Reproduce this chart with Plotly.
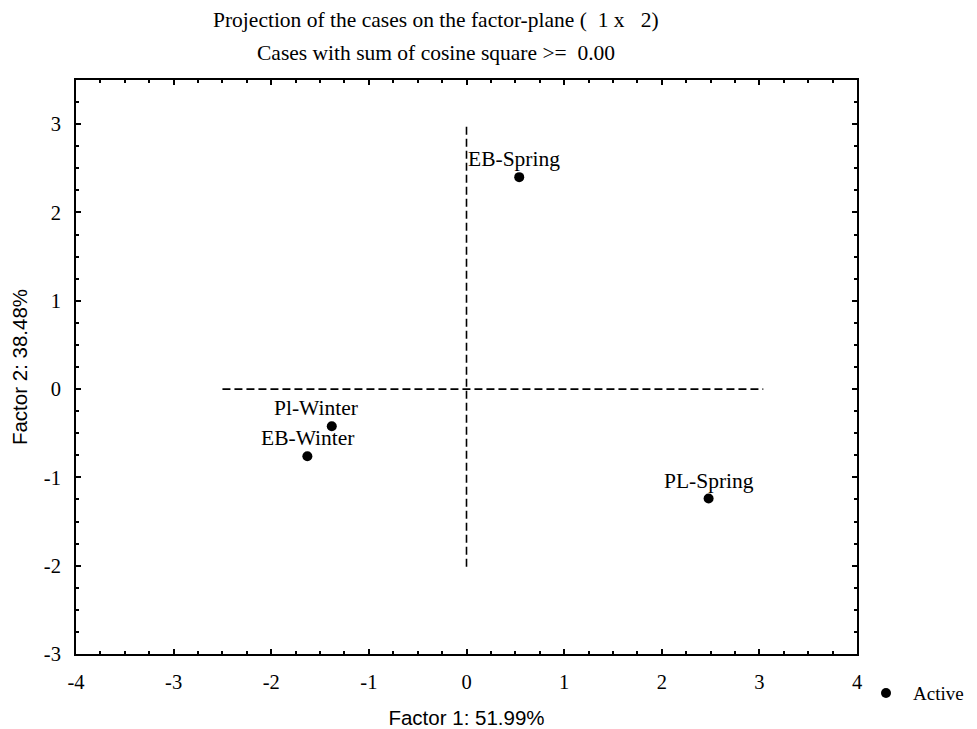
import plotly.graph_objects as go

# Data
case_labels = ["EB-Spring", "Pl-Winter", "EB-Winter", "PL-Spring"]
factor1 = [0.54, -1.38, -1.63, 2.48]
factor2 = [2.40, -0.42, -0.76, -1.24]
x_ticks = [-4, -3, -2, -1, 0, 1, 2, 3, 4]
x_tick_labels = ["-4", "-3", "-2", "-1", "0", "1", "2", "3", "4"]
y_ticks = [-3, -2, -1, 0, 1, 2, 3]
y_tick_labels = ["-3", "-2", "-1", "0", "1", "2", "3"]
hline_x = [-2.50, 3.04]
hline_y = [0, 0]
vline_x = [0, 0]
vline_y = [2.97, -2.02]
legend_name = "Active"

serif = "Liberation Serif"
sans = "Liberation Sans"
label_xshift = [-5, -16, 0, 0]

fig = go.Figure()
fig.add_trace(go.Scatter(x=hline_x, y=hline_y, mode="lines", showlegend=False,
                         line=dict(color="black", width=1.6, dash="8px,4px"), hoverinfo="skip"))
fig.add_trace(go.Scatter(x=vline_x, y=vline_y, mode="lines", showlegend=False,
                         line=dict(color="black", width=1.6, dash="8px,4px"), hoverinfo="skip"))
fig.add_trace(go.Scatter(x=factor1, y=factor2, mode="markers", name=legend_name, showlegend=False,
                         marker=dict(color="black", size=10)))

for lab, xv, yv, xs in zip(case_labels, factor1, factor2, label_xshift):
    fig.add_annotation(x=xv, y=yv, text=lab, showarrow=False, xshift=xs, yshift=18,
                       font=dict(family=serif, size=21.5, color="black"))

fig.add_annotation(xref="paper", yref="paper", x=0.461, y=1.0 + 60 / 574, xanchor="center", yanchor="middle",
                   text="Projection of the cases on the factor-plane (  1 x   2)",
                   showarrow=False, font=dict(family=serif, size=21.5, color="black"))
fig.add_annotation(xref="paper", yref="paper", x=0.461, y=1.0 + 27 / 574, xanchor="center", yanchor="middle",
                   text="Cases with sum of cosine square >=  0.00",
                   showarrow=False, font=dict(family=serif, size=21.5, color="black"))

# legend entry drawn manually so it does not shrink the plot area
fig.add_annotation(xref="paper", yref="paper", x=(911 - 76) / 781, y=-39 / 574, xanchor="left", yanchor="middle",
                   text=legend_name, showarrow=False, font=dict(family=serif, size=19, color="black"))
fig.add_shape(type="circle", xref="paper", yref="paper", xsizemode="pixel", ysizemode="pixel",
              xanchor=(886 - 76) / 781, yanchor=-39 / 574, x0=-5, x1=5, y0=-5, y1=5,
              fillcolor="black", line=dict(color="black", width=0))

axis_common = dict(showgrid=False, zeroline=False, showline=True, linecolor="black", linewidth=2,
                   mirror="allticks", ticks="inside", ticklen=5, tickwidth=1.5, tickcolor="black",
                   tickfont=dict(family=serif, size=20.5, color="black"), automargin=False,
                   minor=dict(ticks="inside", ticklen=3, tickwidth=1.5, tickcolor="black"))

fig.update_xaxes(range=[-4, 4], tickvals=x_ticks, ticktext=x_tick_labels, ticklabelstandoff=8,
                 title=dict(text="Factor 1: 51.99%", font=dict(family=sans, size=20.5, color="black"), standoff=22),
                 minor_dtick=0.25, **axis_common)
fig.update_yaxes(range=[-3, 3.5], tickvals=y_ticks, ticktext=y_tick_labels, ticklabelstandoff=9,
                 title=dict(text="Factor 2: 38.48%", font=dict(family=sans, size=20.5, color="black"), standoff=12),
                 minor_dtick=0.25, **axis_common)

fig.update_layout(width=969, height=721, plot_bgcolor="white", paper_bgcolor="white",
                  margin=dict(l=68, r=120, t=72, b=75), showlegend=False)

fig.write_html("out.html")
